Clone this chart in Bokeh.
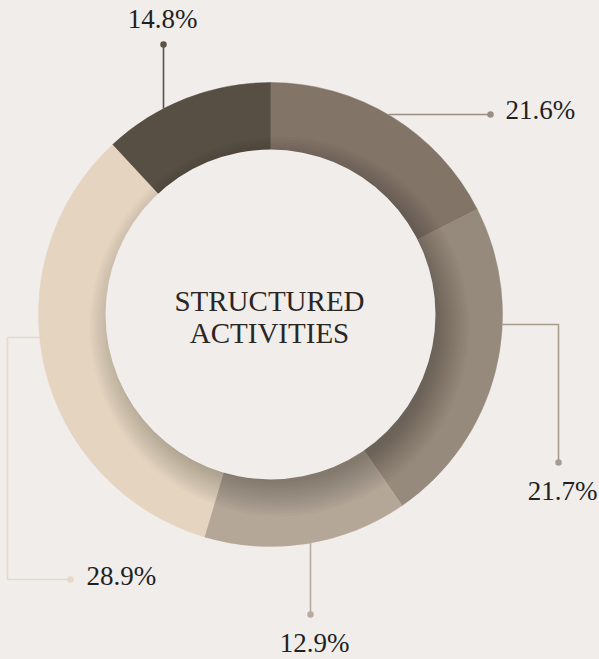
import math
from bokeh.plotting import figure
from bokeh.models import Range1d
from bokeh.core.properties import value
from bokeh.embed import file_html
from bokeh.resources import INLINE

# ---- data ----
labels = ["21.6%", "21.7%", "12.9%", "28.9%", "14.8%"]
shares = [17.5, 22.9, 14.2, 33.5, 11.9]          # drawn arc sizes
colors = ["#827467", "#958a7c", "#b4a797", "#e5d5c0", "#574e44"]
line_colors = ["#9b8f84", "#a89c8f", "#b8ab9d", "#e6d9c6", "#5d5248"]
center_title = ["STRUCTURED", "ACTIVITIES"]

BG = "#f0edeb"
R_OUT, R_IN = 232, 165
CX, CY = 270, 314  # donut centre in page pixels
W, H = 599, 659


def P(ix, iy):
    return ix - CX, CY - iy


p = figure(width=W, height=H,
           x_range=Range1d(0 - CX, W - CX), y_range=Range1d(CY - H, CY - 0),
           output_backend="svg", toolbar_location=None, min_border=0)
p.axis.visible = False
p.grid.visible = False
p.outline_line_color = None
p.background_fill_color = BG
p.border_fill_color = BG

# ---- ring ----
total = sum(shares)
cum = 0.0
starts, ends = [], []
for s in shares:
    starts.append(math.pi / 2 - 2 * math.pi * cum / total)
    cum += s
    ends.append(math.pi / 2 - 2 * math.pi * cum / total)

p.annular_wedge(x=0, y=0, inner_radius=R_IN - 2, outer_radius=R_OUT,
                start_angle=starts, end_angle=ends, direction="clock",
                fill_color=colors, line_color=colors, line_width=0.5)

# soft inner shadow (cast towards lower right)
for k in range(14):
    p.circle(x=[9], y=[-12], radius=156 + k * 2.6, fill_color="black",
             fill_alpha=0.018, line_color=None)

p.circle(x=[0], y=[0], radius=R_IN, fill_color=BG, line_color=None)

# ---- leaders & labels ----
leaders = [
    [(388, 114), (490, 114)],
    [(501, 324), (558, 324), (558, 462)],
    [(310, 542), (310, 614)],
    [(39, 337), (7, 337), (7, 579), (70, 579)],
    [(163, 108), (163, 44)],
]
label_pos = [(505, 109, "left"), (562, 490, "center"), (314, 642, "center"),
             (86, 575, "left"), (162, 18, "center")]

for pts, lc, lab, (tx, ty, al) in zip(leaders, line_colors, labels, label_pos):
    xs = [P(a, b)[0] for a, b in pts]
    ys = [P(a, b)[1] for a, b in pts]
    p.line(xs, ys, line_color=lc, line_width=1.6)
    p.scatter([xs[-1]], [ys[-1]], size=6.5, marker="circle", fill_color=lc, line_color=None)
    x0, y0 = P(tx, ty)
    p.text(x=[x0], y=[y0], text=[lab], text_font=value("Liberation Serif"),
           text_font_size="27px", text_color="#231f1d", text_align=al,
           text_baseline="alphabetic")

# ---- centre title ----
for line, by in zip(center_title, [300, 332]):
    x0, y0 = P(269, by)
    p.text(x=[x0], y=[y0], text=[line], text_font=value("Liberation Serif"),
           text_font_size="29px", text_color="#2a2623", text_align="center",
           text_baseline="alphabetic")

html = file_html(p, INLINE)
html = html.replace("</head>", "<style>body{background:%s;}</style></head>" % BG, 1)
open("out.html", "w").write(html)
